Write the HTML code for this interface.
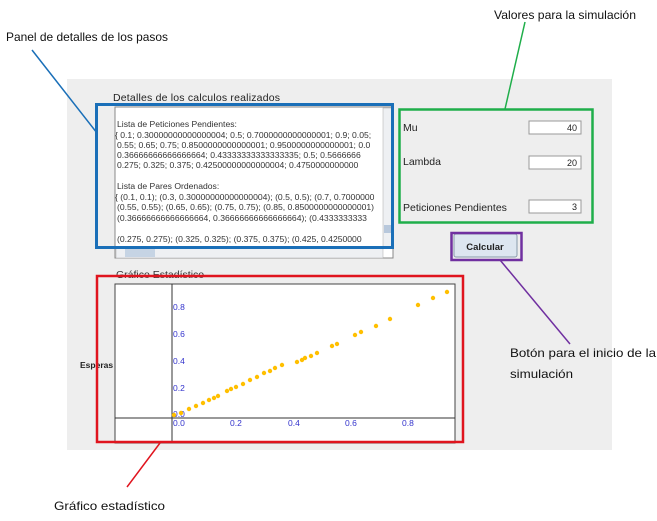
<!DOCTYPE html>
<html><head><meta charset="utf-8"><style>
body{margin:0;background:#fff;}
svg{display:block;}
</style></head><body>
<svg width="657" height="521" xmlns="http://www.w3.org/2000/svg" font-family="Liberation Sans, sans-serif">
<rect x="0" y="0" width="657" height="521" fill="#fff"/>
<rect x="67" y="79" width="545" height="371" fill="#eeeeee"/>
<text x="113" y="101" font-size="10.5" fill="#222" textLength="167">Detalles de los calculos realizados</text>
<!-- textarea -->
<rect x="115" y="107" width="278" height="151" fill="#fff" stroke="#888" stroke-width="1"/>
<g font-size="8.6" fill="#333">
<text x="117" y="127">Lista de Peticiones Pendientes:</text>
<text x="115" y="138">{ 0.1; 0.30000000000000004; 0.5; 0.7000000000000001; 0.9; 0.05;</text>
<text x="117" y="148">0.55; 0.65; 0.75; 0.8500000000000001; 0.9500000000000001; 0.0</text>
<text x="117" y="158">0.36666666666666664; 0.43333333333333335; 0.5; 0.5666666</text>
<text x="117" y="168">0.275; 0.325; 0.375; 0.42500000000000004; 0.4750000000000</text>
<text x="117" y="189">Lista de Pares Ordenados:</text>
<text x="115" y="200">{ (0.1, 0.1); (0.3, 0.30000000000000004); (0.5, 0.5); (0.7, 0.7000000</text>
<text x="117" y="210">(0.55, 0.55); (0.65, 0.65); (0.75, 0.75); (0.85, 0.8500000000000001)</text>
<text x="117" y="221">(0.36666666666666664, 0.36666666666666664); (0.4333333333</text>
<text x="117" y="242">(0.275, 0.275); (0.325, 0.325); (0.375, 0.375); (0.425, 0.4250000</text>
</g>
<rect x="383" y="108" width="10" height="140" fill="#eef0f3" stroke="#aaa" stroke-width="0.5"/>
<rect x="384" y="225" width="8" height="8" fill="#b8c8dc"/>
<rect x="116" y="248" width="267" height="10" fill="#eef0f3" stroke="#aaa" stroke-width="0.5"/>
<rect x="125" y="249" width="30" height="8" fill="#c6d4e4"/>
<!-- fields -->
<g font-size="10.5" fill="#222">
<text x="403" y="131">Mu</text>
<text x="403" y="165">Lambda</text>
<text x="403" y="211">Peticiones Pendientes</text>
</g>
<g font-size="9" fill="#222">
<rect x="529" y="121" width="52" height="13" fill="#fff" stroke="#999"/><text x="577" y="131" text-anchor="end">40</text>
<rect x="529" y="156" width="52" height="13" fill="#fff" stroke="#999"/><text x="577" y="166" text-anchor="end">20</text>
<rect x="529" y="200" width="52" height="13" fill="#fff" stroke="#999"/><text x="577" y="210" text-anchor="end">3</text>
</g>
<rect x="454" y="234" width="63" height="23" rx="2" fill="#dde6f0" stroke="#8899aa"/>
<text x="485" y="250" font-size="9.5" font-weight="bold" fill="#222" text-anchor="middle">Calcular</text>
<!-- chart -->
<text x="116" y="278" font-size="10.5" fill="#333">Gráfico Estadístico</text>
<rect x="115" y="284" width="340" height="159" fill="#fff" stroke="#444"/>
<line x1="172" y1="284" x2="172" y2="443" stroke="#333"/>
<line x1="115" y1="418" x2="455" y2="418" stroke="#333"/>
<text x="80" y="368" font-size="8.5" font-weight="bold" fill="#222">Esperas</text>
<g font-size="8.5" fill="#3333cc">
<text x="173" y="310">0.8</text>
<text x="173" y="337">0.6</text>
<text x="173" y="364">0.4</text>
<text x="173" y="391">0.2</text>
<text x="173" y="417">0.0</text>
<text x="173" y="426">0.0</text>
<text x="230" y="426">0.2</text>
<text x="288" y="426">0.4</text>
<text x="345" y="426">0.6</text>
<text x="402" y="426">0.8</text>
</g>
<g fill="#ffbf00">
<circle cx="174" cy="415" r="2.2"/><circle cx="181" cy="413" r="2.2"/><circle cx="189" cy="409" r="2.2"/><circle cx="196" cy="406" r="2.2"/><circle cx="203" cy="403" r="2.2"/><circle cx="209" cy="400" r="2.2"/><circle cx="214" cy="398" r="2.2"/><circle cx="218" cy="396" r="2.2"/><circle cx="227" cy="391" r="2.2"/><circle cx="231" cy="389" r="2.2"/><circle cx="236" cy="387" r="2.2"/><circle cx="243" cy="384" r="2.2"/><circle cx="250" cy="380" r="2.2"/><circle cx="257" cy="377" r="2.2"/><circle cx="264" cy="373" r="2.2"/><circle cx="270" cy="371" r="2.2"/><circle cx="275" cy="368" r="2.2"/><circle cx="282" cy="365" r="2.2"/><circle cx="297" cy="362" r="2.2"/><circle cx="302" cy="360" r="2.2"/><circle cx="305" cy="358" r="2.2"/><circle cx="311" cy="356" r="2.2"/><circle cx="317" cy="353" r="2.2"/><circle cx="332" cy="346" r="2.2"/><circle cx="337" cy="344" r="2.2"/><circle cx="355" cy="335" r="2.2"/><circle cx="361" cy="332" r="2.2"/><circle cx="376" cy="326" r="2.2"/><circle cx="390" cy="319" r="2.2"/><circle cx="418" cy="305" r="2.2"/><circle cx="433" cy="298" r="2.2"/><circle cx="447" cy="292" r="2.2"/>
</g>
<!-- highlight boxes -->
<rect x="96.5" y="104.5" width="296" height="143" fill="none" stroke="#1a6fb8" stroke-width="3"/>
<rect x="399.5" y="109.5" width="193" height="113" fill="none" stroke="#1fae4a" stroke-width="2.5"/>
<rect x="451.5" y="233" width="70" height="27" fill="none" stroke="#7030a0" stroke-width="2.5"/>
<rect x="97" y="276" width="366" height="166" fill="none" stroke="#e0141e" stroke-width="2.5"/>
<!-- connectors -->
<line x1="32" y1="50" x2="97" y2="133" stroke="#1a6fb8" stroke-width="1.5"/>
<line x1="525" y1="22" x2="505" y2="109" stroke="#1fae4a" stroke-width="1.5"/>
<line x1="500" y1="260" x2="570" y2="344" stroke="#7030a0" stroke-width="1.5"/>
<line x1="160" y1="443" x2="127" y2="487" stroke="#e0141e" stroke-width="1.5"/>
<!-- labels -->
<g font-size="12" fill="#111">
<text x="6" y="41" textLength="162" lengthAdjust="spacingAndGlyphs">Panel de detalles de los pasos</text>
<text x="494" y="19" textLength="142" lengthAdjust="spacingAndGlyphs">Valores para la simulación</text>
<text x="510" y="357" textLength="146" lengthAdjust="spacingAndGlyphs">Botón para el inicio de la</text>
<text x="510" y="378" textLength="63" lengthAdjust="spacingAndGlyphs">simulación</text>
<text x="54" y="510" textLength="111" lengthAdjust="spacingAndGlyphs">Gráfico estadístico</text>
</g>
</svg>
</body></html>
